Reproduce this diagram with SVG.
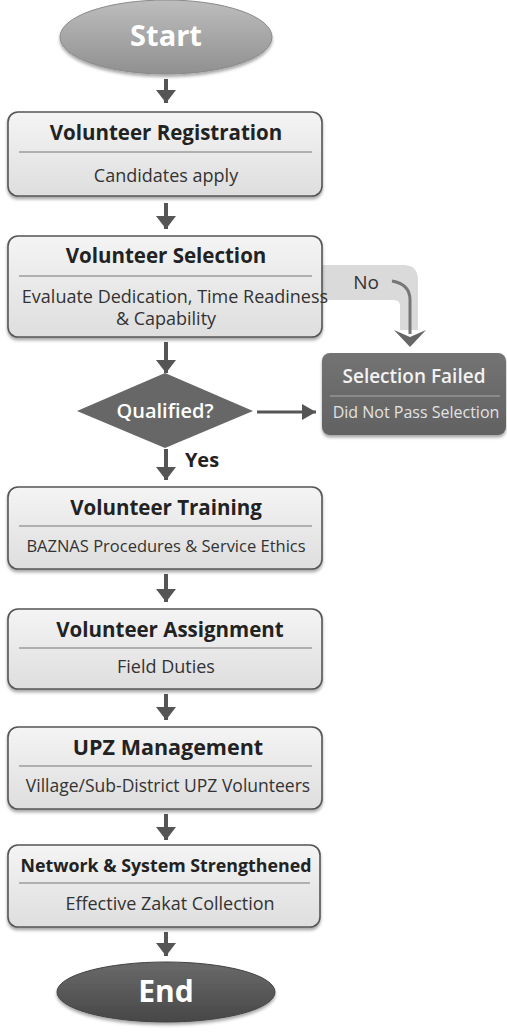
<svg xmlns="http://www.w3.org/2000/svg" width="507" height="1034" viewBox="0 0 507 1034">
<defs>
<linearGradient id="boxg" x1="0" y1="0" x2="0" y2="1"><stop offset="0" stop-color="#f4f4f4"/><stop offset="1" stop-color="#dedede"/></linearGradient>
<linearGradient id="startg" x1="0" y1="0" x2="0" y2="1"><stop offset="0" stop-color="#bdbdbd"/><stop offset="1" stop-color="#909090"/></linearGradient>
<linearGradient id="endg" x1="0" y1="0" x2="0" y2="1"><stop offset="0" stop-color="#6a6a6a"/><stop offset="1" stop-color="#474747"/></linearGradient>
<linearGradient id="darkg" x1="0" y1="0" x2="0" y2="1"><stop offset="0" stop-color="#737373"/><stop offset="1" stop-color="#626262"/></linearGradient>
<filter id="sh" x="-10%" y="-10%" width="120%" height="130%"><feDropShadow dx="0" dy="2.5" stdDeviation="1.5" flood-color="#000" flood-opacity="0.35"/></filter>
<marker id="ah" markerUnits="userSpaceOnUse" markerWidth="14" markerHeight="21" refX="13" refY="10" orient="auto"><path d="M0,0 L13,10 L0,20 Z" fill="#555"/></marker>
<marker id="ahs" markerUnits="userSpaceOnUse" markerWidth="16" markerHeight="17" refX="14" refY="8" orient="auto"><path d="M0,0 L14,8 L0,16 Z" fill="#555"/></marker>
</defs>
<style>
.box{fill:url(#boxg);stroke:#555;stroke-width:1.6;filter:url(#sh)}
.div{stroke:#777;stroke-width:1.2}
.t{font-family:"Open Sans","Noto Sans",sans-serif;font-weight:700;font-size:20.5px;fill:#222;text-anchor:middle}
.s{font-family:"Open Sans","Noto Sans",sans-serif;font-size:18px;fill:#333;text-anchor:middle}
.w{font-family:"Open Sans","Noto Sans",sans-serif;font-weight:700;fill:#fff;text-anchor:middle}
.a{stroke:#555;stroke-width:4;fill:none;marker-end:url(#ah)}
</style>
<g id="connectors">
<line class="a" x1="166" y1="79" x2="166" y2="103"/>
<line class="a" x1="166" y1="203" x2="166" y2="229"/>
<line class="a" x1="166" y1="342" x2="166" y2="373"/>
<line class="a" x1="166" y1="449" x2="166" y2="480"/>
<line class="a" x1="166" y1="574" x2="166" y2="602"/>
<line class="a" x1="166" y1="694" x2="166" y2="720"/>
<line class="a" x1="166" y1="814" x2="166" y2="840"/>
<line class="a" x1="166" y1="932" x2="166" y2="956"/>
<line x1="257" y1="412" x2="316" y2="412" stroke="#555" stroke-width="3" marker-end="url(#ahs)"/>
<path d="M322 265 H403 Q418 265 418 280 V330 H400 V306 Q400 300 394 300 H322 Z" fill="#dadada"/>
<path d="M392 281 Q410 284 410 300 V334" fill="none" stroke="#777" stroke-width="3"/>
<polygon points="394,330 410,347 426,330 410,337" fill="#666"/>
<text x="366" y="289" style="font-family:'Open Sans','Noto Sans',sans-serif;font-size:19px;fill:#333;text-anchor:middle">No</text>
<text x="202" y="467" class="t" style="font-size:20px">Yes</text>
</g>
<g id="start">
<ellipse cx="166" cy="37" rx="106" ry="37" fill="url(#startg)" stroke="#8a8a8a" stroke-width="1" filter="url(#sh)"/>
<text x="166" y="46" class="w" font-size="29">Start</text>
</g>
<g id="registration">
<rect class="box" x="8" y="112" width="314" height="84" rx="10"/>
<text x="166" y="140" class="t">Volunteer Registration</text>
<line class="div" x1="19" y1="152" x2="312" y2="152"/>
<text x="166" y="182" class="s">Candidates apply</text>
</g>
<g id="selection">
<rect class="box" x="8" y="236" width="314" height="101" rx="10"/>
<text x="166" y="263" class="t">Volunteer Selection</text>
<line class="div" x1="19" y1="276" x2="312" y2="276"/>
<text x="175" y="303" class="s">Evaluate Dedication, Time Readiness</text>
<text x="166" y="325" class="s">&amp; Capability</text>
</g>
<g id="qualified">
<polygon points="77,411 165,373 253,411 165,448" fill="#676767"/>
<text x="165" y="418" class="w" style="font-weight:600;font-size:20px">Qualified?</text>
</g>
<g id="failed">
<rect x="322" y="353" width="184" height="82" rx="8" fill="url(#darkg)" filter="url(#sh)"/>
<text x="414" y="383" class="w" style="font-weight:600;fill:#f2f2f2;font-size:19px">Selection Failed</text>
<line x1="330" y1="396" x2="500" y2="396" stroke="#aaa" stroke-width="1.2"/>
<text x="416" y="418" class="s" style="fill:#e2e2e2;font-size:16px">Did Not Pass Selection</text>
</g>
<g id="training">
<rect class="box" x="8" y="487" width="314" height="82" rx="10"/>
<text x="166" y="515" class="t">Volunteer Training</text>
<line class="div" x1="19" y1="526" x2="312" y2="526"/>
<text x="166" y="552" class="s" style="font-size:16.5px">BAZNAS Procedures &amp; Service Ethics</text>
</g>
<g id="assignment">
<rect class="box" x="8" y="609" width="314" height="80" rx="10"/>
<text x="170" y="637" class="t">Volunteer Assignment</text>
<line class="div" x1="19" y1="648" x2="312" y2="648"/>
<text x="166" y="673" class="s">Field Duties</text>
</g>
<g id="upz">
<rect class="box" x="8" y="727" width="314" height="82" rx="10"/>
<text x="168" y="755" class="t" style="font-size:21.5px">UPZ Management</text>
<line class="div" x1="19" y1="766" x2="312" y2="766"/>
<text x="168" y="792" class="s" style="font-size:17.5px">Village/Sub-District UPZ Volunteers</text>
</g>
<g id="network">
<rect class="box" x="8" y="845" width="312" height="82" rx="10"/>
<text x="166" y="872" class="t" style="font-size:17.8px">Network &amp; System Strengthened</text>
<line class="div" x1="19" y1="883" x2="310" y2="883"/>
<text x="170" y="910" class="s">Effective Zakat Collection</text>
</g>
<g id="end">
<ellipse cx="166" cy="992" rx="109" ry="30" fill="url(#endg)" stroke="#444" stroke-width="1" filter="url(#sh)"/>
<text x="166" y="1002" class="w" font-size="30">End</text>
</g>
</svg>
